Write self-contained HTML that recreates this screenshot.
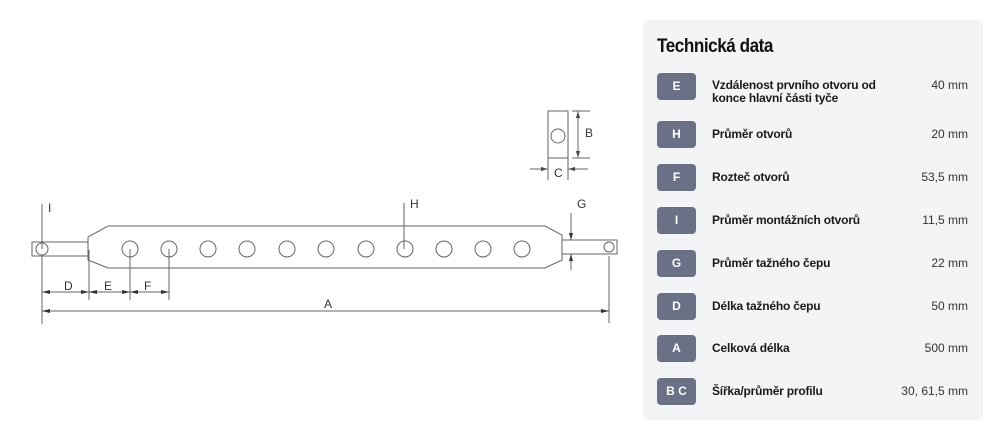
<!DOCTYPE html>
<html><head><meta charset="utf-8"><style>
body{margin:0;width:1000px;height:448px;background:#fff;position:relative;overflow:hidden;font-family:"Liberation Sans",sans-serif}
.panel{position:absolute;left:643px;top:20px;width:340px;height:400px;background:#f3f4f6;border-radius:6px}
.t{position:absolute;left:657px;top:36px;font-size:19px;font-weight:bold;color:#111;letter-spacing:-0.5px;transform:scaleX(0.9);transform-origin:left}
.b{position:absolute;left:657px;width:39px;height:27px;background:#6a7085;border-radius:4px;color:#fff;font-size:12px;font-weight:bold;text-align:center;line-height:27px}
.l{position:absolute;left:712px;font-size:12px;font-weight:bold;color:#1a1a1a;line-height:13px;letter-spacing:-0.2px}
.v{position:absolute;right:32px;font-size:12px;color:#333;line-height:13px}
</style></head><body>
<svg width="640" height="448" style="position:absolute;left:0;top:0" fill="none" stroke="#666" stroke-width="1">
<path d="M32 242H88V256H32Z"/><circle cx="42" cy="249" r="6"/>
<path d="M88 256V237L108 226H545L562 235V260L545 268H108L88 260V256"/>
<g><circle cx="130" cy="249" r="8"/><circle cx="169" cy="249" r="8"/><circle cx="208" cy="249" r="8"/><circle cx="247" cy="249" r="8"/><circle cx="287" cy="249" r="8"/><circle cx="326" cy="249" r="8"/><circle cx="366" cy="249" r="8"/><circle cx="405" cy="249" r="8"/><circle cx="444" cy="249" r="8"/><circle cx="483" cy="249" r="8"/><circle cx="522" cy="249" r="8"/></g>
<path d="M562 240H617V254H562Z"/><circle cx="609" cy="247" r="5"/>
<path d="M42 204V249M42 256V324M89 250V300M130 249V300M169 249V300M609 256V323M404 203V249M42 292H169M42 311H609"/>
<path d="M571 213V240M571 254V270"/>
<g fill="#333" stroke="none">
<path d="M42 292l8-2v4zM89 292l-8-2v4zM89 292l8-2v4zM130 292l-8-2v4zM130 292l8-2v4zM169 292l-8-2v4zM42 311l8-2v4zM609 311l-8-2v4zM571 240l-2-7h4zM571 254l-2 7h4zM578 111l-2 7h4zM578 158l-2-7h4zM548 169l-7-2v4zM568 169l7-2v4z"/>
</g>
<rect x="548" y="111" width="20" height="47"/><circle cx="558" cy="136" r="7"/>
<path d="M572 111H590M572 158H590M578 111V158M548 158V180M568 158V180M530 169H548M568 169H588"/>
<g fill="#333" stroke="none" font-size="12" font-family="Liberation Sans,sans-serif">
<text x="48" y="212">I</text><text x="64" y="290">D</text><text x="104" y="290">E</text><text x="144" y="290">F</text><text x="324" y="308">A</text><text x="410" y="208">H</text><text x="577" y="208">G</text><text x="585" y="137">B</text><text x="554" y="177">C</text>
</g>
</svg>
<div class="panel"></div>
<div class="t">Technická data</div>
<div class="b" style="top:73px">E</div><div class="l" style="top:79px">Vzdálenost prvního otvoru od<br>konce hlavní části tyče</div><div class="v" style="top:79px">40 mm</div>
<div class="b" style="top:121px">H</div><div class="l" style="top:128px">Průměr otvorů</div><div class="v" style="top:128px">20 mm</div>
<div class="b" style="top:164px">F</div><div class="l" style="top:171px">Rozteč otvorů</div><div class="v" style="top:171px">53,5 mm</div>
<div class="b" style="top:207px">I</div><div class="l" style="top:214px">Průměr montážních otvorů</div><div class="v" style="top:214px">11,5 mm</div>
<div class="b" style="top:250px">G</div><div class="l" style="top:257px">Průměr tažného čepu</div><div class="v" style="top:257px">22 mm</div>
<div class="b" style="top:293px">D</div><div class="l" style="top:300px">Délka tažného čepu</div><div class="v" style="top:300px">50 mm</div>
<div class="b" style="top:335px">A</div><div class="l" style="top:342px">Celková délka</div><div class="v" style="top:342px">500 mm</div>
<div class="b" style="top:378px">B C</div><div class="l" style="top:385px">Šířka/průměr profilu</div><div class="v" style="top:385px">30, 61,5 mm</div>
</body></html>
